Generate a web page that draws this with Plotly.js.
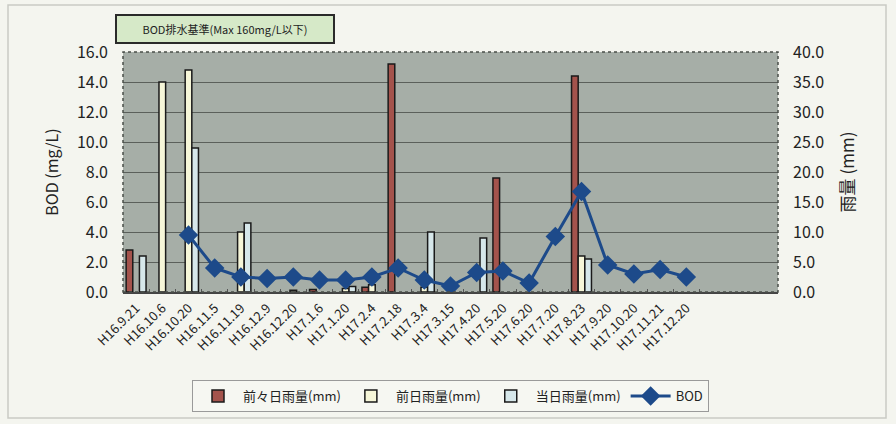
<!DOCTYPE html>
<html>
<head>
<meta charset="utf-8">
<script src="https://cdn.plot.ly/plotly-3.0.1.min.js"></script>
<style>html,body{margin:0;padding:0;background:#F4F5EF;}#chart{width:896px;height:424px;}</style>
</head>
<body>
<div id="chart"></div>
<script>
// Category labels (dates, Heisei era)
const categories = ["H16.9.21","H16.10.6","H16.10.20","H16.11.5","H16.11.19","H16.12.9","H16.12.20",
  "H17.1.6","H17.1.20","H17.2.4","H17.2.18","H17.3.4","H17.3.15","H17.4.20","H17.5.20","H17.6.20",
  "H17.7.20","H17.8.23","H17.9.20","H17.10.20","H17.11.21","H17.12.20"];
// Rainfall two days before (mm); null = no rain
const rainTwoDaysBefore = [7.0,null,null,null,null,null,null,0.4,null,0.8,38.0,null,null,null,19.0,null,null,36.0,null,null,null,null];
// Rainfall the day before (mm)
const rainDayBefore    = [null,35.0,37.0,null,10.0,null,0.3,null,0.6,1.2,null,0.8,null,null,null,null,null,6.0,null,null,null,null];
// Rainfall on the day (mm)
const rainSameDay      = [6.0,null,24.0,null,11.5,null,null,null,0.9,null,null,10.0,null,9.0,null,null,null,5.5,null,null,null,null];
// BOD (mg/L)
const bod = [null,null,3.8,1.6,1.0,0.9,1.0,0.8,0.8,1.0,1.6,0.8,0.4,1.3,1.4,0.6,3.7,6.7,1.8,1.2,1.5,1.0];
const leftTicks = [0,2,4,6,8,10,12,14,16];
const rightTicks = [0,5,10,15,20,25,30,35,40];

const font = "Noto Sans CJK JP, Noto Sans, sans-serif";
const barLine = {color:"#1a1a1a", width:1.5};

const traces = [
  {type:"bar", name:"前々日雨量(mm)", x:categories, y:rainTwoDaysBefore, yaxis:"y",
   marker:{color:"#A4534C", line:barLine}},
  {type:"bar", name:"前日雨量(mm)", x:categories, y:rainDayBefore, yaxis:"y",
   marker:{color:"#F6F6D8", line:barLine}},
  {type:"bar", name:"当日雨量(mm)", x:categories, y:rainSameDay, yaxis:"y",
   marker:{color:"#D6E7EA", line:barLine}},
  {type:"scatter", mode:"lines+markers", name:"BOD", x:categories, y:bod, yaxis:"y2",
   line:{color:"#1D4A8A", width:3}, marker:{symbol:"diamond", size:15, color:"#1D4A8A"},
   connectgaps:false}
];

const L=123, R=778, T=52, B=292;
const pw=R-L, ph=B-T;
const px=(v)=>(v-L)/pw, py=(v)=>(B-v)/ph;

const layout = {
  width:896, height:424,
  margin:{l:L, r:896-R, t:T, b:424-B, pad:0},
  paper_bgcolor:"#F4F5EF", plot_bgcolor:"#A6AEA7",
  font:{family:font, size:12, color:"#222"},
  barmode:"group", bargap:0.24, bargroupgap:0,
  showlegend:true,
  legend:{orientation:"h", x:0.5, xanchor:"center", y:py(396), yanchor:"middle",
    bgcolor:"#F6F7F2", bordercolor:"#9a9a9a", borderwidth:1,
    font:{family:font, size:13, color:"#222"}, traceorder:"normal", itemwidth:40},
  xaxis:{type:"category", categoryarray:categories, categoryorder:"array",
    range:[-0.5, 24.5], tickangle:-45, tickfont:{family:font, size:13, color:"#222"},
    ticklabelstandoff:2,
    showgrid:false, showline:true, linecolor:"#444", linewidth:1.5,
    ticks:"inside", ticklen:3, tickcolor:"#555", tickson:"boundaries", zeroline:false},
  yaxis:{side:"right", range:[0,40], tickvals:rightTicks,
    ticktext:rightTicks.map(v=>v.toFixed(1)),
    tickfont:{family:font, size:16, color:"#222"}, ticklabelstandoff:14,
    showgrid:true, gridcolor:"#5B605B", gridwidth:1, zeroline:false, showline:false,
    title:{text:"雨量 (mm)", font:{family:font, size:17, color:"#222"}, standoff:18}},
  yaxis2:{side:"left", overlaying:"y", range:[0,16], tickvals:leftTicks,
    ticktext:leftTicks.map(v=>v.toFixed(1)),
    tickfont:{family:font, size:16, color:"#222"}, ticklabelstandoff:14,
    showgrid:false, zeroline:false, showline:false,
    title:{text:"BOD (mg/L)", font:{family:font, size:16, color:"#222"}, standoff:14}},
  shapes:[
    {type:"rect", xref:"paper", yref:"paper", x0:0, x1:1, y0:0, y1:1,
     line:{color:"#4a4f4a", width:1.5, dash:"dot"}, layer:"above"},
    {type:"rect", xref:"paper", yref:"paper", x0:px(8), x1:px(886), y0:py(418), y1:py(5),
     line:{color:"#c9cac5", width:1.5}, layer:"below"}
  ],
  annotations:[
    {text:"BOD排水基準(Max 160mg/L以下)", xref:"paper", yref:"paper",
     x:px(225), y:py(28.5), xanchor:"center", yanchor:"middle", showarrow:false,
     font:{family:font, size:11, color:"#222"}, bgcolor:"#D6E9C8",
     bordercolor:"#2a2a2a", borderwidth:2, borderpad:5, width:206}
  ]
};

Plotly.newPlot("chart", traces, layout, {displayModeBar:false, staticPlot:true});
</script>
</body>
</html>
